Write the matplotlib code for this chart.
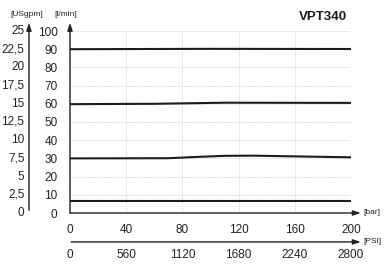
import matplotlib.pyplot as plt
from matplotlib.transforms import blended_transform_factory

plt.rcParams['font.family'] = ['Liberation Sans', 'DejaVu Sans']

pressure_bar = [0, 40, 80, 120, 160, 200]
psi_ticks = [0, 560, 1120, 1680, 2240, 2800]
lpm_ticks = [0, 10, 20, 30, 40, 50, 60, 70, 80, 90, 100]
usgpm_labels = ['0', '2,5', '5', '7,5', '10', '12,5', '15', '17,5', '20', '22,5', '25']

# flow curves (l/min) against pressure (bar)
curve_90_x = [0, 100, 200]
curve_90_y = [90.0, 90.2, 90.1]
curve_60_x = [0, 60, 110, 200]
curve_60_y = [59.8, 60.0, 60.6, 60.5]
curve_30_x = [0, 70, 90, 110, 130, 200]
curve_30_y = [30.0, 30.1, 30.8, 31.4, 31.5, 30.6]
curve_7_x = [0, 200]
curve_7_y = [6.6, 6.6]

fig = plt.figure(figsize=(3.86, 2.64), dpi=100)
ax = fig.add_axes([70 / 386, 51 / 264, 281 / 386, 182 / 264])

line_color = '#1c1c28'
for xs, ys in [(curve_90_x, curve_90_y), (curve_60_x, curve_60_y),
               (curve_30_x, curve_30_y), (curve_7_x, curve_7_y)]:
    ax.plot(xs, ys, color=line_color, linewidth=1.5, solid_capstyle='butt')

ax.set_xlim(0, 200)
ax.set_ylim(0, 100)
ax.set_xticks(pressure_bar)
ax.set_yticks(lpm_ticks)
ax.tick_params(axis='both', length=0, labelsize=8.5, colors='#222222')
ax.tick_params(axis='y', pad=9)
ax.tick_params(axis='x', pad=8)

ax.grid(color='#dcdcdc', linewidth=0.6, linestyle=(0, (3, 1)))
for s in ax.spines.values():
    s.set_visible(False)

arrow = dict(arrowstyle='-|>,head_length=0.45,head_width=0.15', color='#222222', lw=1.0,
             shrinkA=0, shrinkB=0)
ax.annotate('', xy=(1.035, 0), xytext=(0, 0), xycoords='axes fraction', arrowprops=arrow)
ax.annotate('', xy=(0, 1.045), xytext=(0, 0), xycoords='axes fraction', arrowprops=arrow)
ax.annotate('', xy=(-0.146, 1.045), xytext=(-0.146, 0.015), xycoords='axes fraction',
            arrowprops=arrow)
ax.annotate('', xy=(1.035, -0.159), xytext=(0.004, -0.159), xycoords='axes fraction',
            arrowprops=arrow)

# PSI scale
sec = ax.secondary_xaxis(-0.159, functions=(lambda b: b * 14, lambda p: p / 14))
sec.set_xticks(psi_ticks)
sec.tick_params(length=0, labelsize=8.5, colors='#222222', pad=5)
sec.spines['bottom'].set_visible(False)

# USgpm scale
tr = blended_transform_factory(ax.transAxes, ax.transData)
for v, lab in zip(lpm_ticks, usgpm_labels):
    ax.text(-0.162, v, lab, transform=tr, ha='right', va='center', fontsize=8.5,
            color='#222222')

ax.text(-0.155, 1.09, '[USgpm]', transform=ax.transAxes, ha='center', va='center',
        fontsize=6, color='#222222')
ax.text(-0.015, 1.09, '[l/min]', transform=ax.transAxes, ha='center', va='center',
        fontsize=6, color='#222222')
ax.text(1.045, 0, '[bar]', transform=ax.transAxes, ha='left', va='center',
        fontsize=6, color='#222222')
ax.text(1.045, -0.159, '[PSI]', transform=ax.transAxes, ha='left', va='center',
        fontsize=6, color='#222222')
ax.text(0.985, 1.075, 'VPT340', transform=ax.transAxes, ha='right', va='center',
        fontsize=9.5, fontweight='bold', color='#1a1a1a')

fig.savefig('out.png', dpi=100)
